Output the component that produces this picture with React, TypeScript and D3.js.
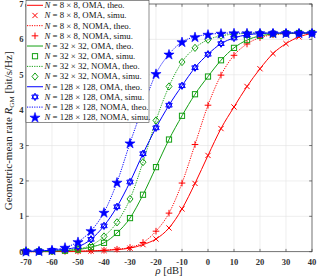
import React from "react";
import * as d3 from "d3";

// SNR grid in dB (markers every 5 dB)
const rho = [-70, -65, -60, -55, -50, -45, -40, -35, -30, -25, -20, -15, -10, -5, 0, 5, 10, 15, 20, 25, 30, 35, 40];

// geometric-mean rate, bit/s/Hz
const oma8 = [0.001, 0.002, 0.004, 0.007, 0.012, 0.02, 0.035, 0.06, 0.1, 0.2, 0.36, 0.67, 1.21, 1.93, 2.72, 3.48, 4.09, 4.67, 5.17, 5.6, 5.88, 6.07, 6.17];
const noma8 = [0.001, 0.002, 0.004, 0.008, 0.014, 0.025, 0.04, 0.07, 0.12, 0.26, 0.58, 1.09, 1.94, 3.03, 4.14, 4.99, 5.55, 5.87, 6.05, 6.13, 6.16, 6.17, 6.18];
const oma32 = [0.004, 0.008, 0.015, 0.03, 0.06, 0.13, 0.25, 0.53, 0.95, 1.61, 2.39, 3.17, 3.84, 4.45, 4.95, 5.41, 5.76, 5.98, 6.1, 6.15, 6.17, 6.18, 6.18];
const noma32 = [0.005, 0.01, 0.02, 0.04, 0.08, 0.18, 0.43, 0.83, 1.49, 2.53, 3.71, 4.67, 5.36, 5.76, 5.99, 6.1, 6.15, 6.17, 6.18, 6.18, 6.18, 6.18, 6.18];
const oma128 = [0.01, 0.02, 0.04, 0.07, 0.14, 0.35, 0.73, 1.27, 1.97, 2.77, 3.5, 4.14, 4.69, 5.2, 5.58, 5.88, 6.04, 6.13, 6.16, 6.18, 6.18, 6.18, 6.18];
const noma128 = [0.01, 0.02, 0.05, 0.12, 0.28, 0.59, 1.11, 1.96, 3.07, 4.1, 5.03, 5.58, 5.93, 6.07, 6.14, 6.17, 6.18, 6.18, 6.18, 6.18, 6.18, 6.18, 6.18];

const xTicks = [-70, -60, -50, -40, -30, -20, -10, 0, 10, 20, 30, 40];
const yTicks = [0, 1, 2, 3, 4, 5, 6, 7];

const RED = "#ff0000";
const GREEN = "#14a014";
const BLUE = "#0000ff";
const FONT = "'Liberation Serif', 'Times New Roman', serif";

type Kind = "x" | "plus" | "square" | "diamond" | "hexagram" | "star" | "none";

const series = [
  { label: " = 8 × 8, OMA, theo.", data: oma8, color: RED, dash: null, marker: "none" as Kind, line: true },
  { label: " = 8 × 8, OMA, simu.", data: oma8, color: RED, dash: null, marker: "x" as Kind, line: false },
  { label: " = 8 × 8, NOMA, theo.", data: noma8, color: RED, dash: "1.2 1.2", marker: "none" as Kind, line: true },
  { label: " = 8 × 8, NOMA, simu.", data: noma8, color: RED, dash: null, marker: "plus" as Kind, line: false },
  { label: " = 32 × 32, OMA, theo.", data: oma32, color: GREEN, dash: null, marker: "none" as Kind, line: true },
  { label: " = 32 × 32, OMA, simu.", data: oma32, color: GREEN, dash: null, marker: "square" as Kind, line: false },
  { label: " = 32 × 32, NOMA, theo.", data: noma32, color: GREEN, dash: "1.2 1.2", marker: "none" as Kind, line: true },
  { label: " = 32 × 32, NOMA, simu.", data: noma32, color: GREEN, dash: null, marker: "diamond" as Kind, line: false },
  { label: " = 128 × 128, OMA, theo.", data: oma128, color: BLUE, dash: null, marker: "none" as Kind, line: true },
  { label: " = 128 × 128, OMA, simu.", data: oma128, color: BLUE, dash: null, marker: "hexagram" as Kind, line: false },
  { label: " = 128 × 128, NOMA, theo.", data: noma128, color: BLUE, dash: "1.2 1.2", marker: "none" as Kind, line: true },
  { label: " = 128 × 128, NOMA, simu.", data: noma128, color: BLUE, dash: null, marker: "star" as Kind, line: false },
];

const x = d3.scaleLinear().domain([-70, 40]).range([26, 312]);
const y = d3.scaleLinear().domain([0, 7]).range([251.7, 4]);

const starPath = d3.symbol(d3.symbolStar, 32)() as string;

function hexPath(r: number) {
  const tri = (off: number) =>
    d3.range(3).map(k => {
      const a = off + (k * 2 * Math.PI) / 3;
      return [r * Math.sin(a), -r * Math.cos(a)];
    });
  const p = (pts: number[][]) => "M" + pts.map(q => q.join(",")).join("L") + "Z";
  return p(tri(0)) + p(tri(Math.PI));
}

function Marker({ kind, cx, cy, color }: { kind: Kind; cx: number; cy: number; color: string }) {
  const s = 2.6;
  const common = { stroke: color, strokeWidth: 1, fill: "none" };
  switch (kind) {
    case "x":
      return <path d={`M${cx - s},${cy - s}L${cx + s},${cy + s}M${cx - s},${cy + s}L${cx + s},${cy - s}`} {...common} />;
    case "plus":
      return <path d={`M${cx - 3.3},${cy}L${cx + 3.3},${cy}M${cx},${cy - 3.3}L${cx},${cy + 3.3}`} {...common} />;
    case "square":
      return <rect x={cx - 2.6} y={cy - 2.6} width={5.2} height={5.2} {...common} />;
    case "diamond":
      return <path d={`M${cx},${cy - 3.6}L${cx + 3},${cy}L${cx},${cy + 3.6}L${cx - 3},${cy}Z`} {...common} />;
    case "hexagram":
      return <path d={hexPath(3.7)} transform={`translate(${cx},${cy})`} {...common} />;
    case "star":
      return <path d={starPath} transform={`translate(${cx},${cy + 0.5})`} fill={color} stroke={color} strokeWidth={0.6} />;
    default:
      return null;
  }
}

export default function App() {
  const line = d3
    .line<number>()
    .x((_, i) => x(rho[i]))
    .y(d => y(d))
    .curve(d3.curveMonotoneX);

  const [x0, x1] = x.range();
  const [y0, y1] = y.range();
  const legendTop = 0.5;
  const step = 10.18;

  return (
    <svg width={319} height={277} style={{ position: "absolute", left: 0, top: 0 }} fontFamily={FONT}>
      <rect width={319} height={277} fill="#fff" />
      {/* grid */}
      <g stroke="#e3e3e3" strokeWidth={0.6}>
        {xTicks.map(t => (
          <line key={"gx" + t} x1={x(t)} x2={x(t)} y1={y1} y2={y0} />
        ))}
        {yTicks.map(t => (
          <line key={"gy" + t} x1={x0} x2={x1} y1={y(t)} y2={y(t)} />
        ))}
      </g>
      {/* axes box + ticks */}
      <g stroke="#444" strokeWidth={0.7} fill="none">
        <rect x={x0} y={y1} width={x1 - x0} height={y0 - y1} />
        {xTicks.map(t => (
          <g key={"tx" + t}>
            <line x1={x(t)} x2={x(t)} y1={y0} y2={y0 - 2.8} />
            <line x1={x(t)} x2={x(t)} y1={y1} y2={y1 + 2.8} />
          </g>
        ))}
        {yTicks.map(t => (
          <g key={"ty" + t}>
            <line x1={x0} x2={x0 + 2.8} y1={y(t)} y2={y(t)} />
            <line x1={x1} x2={x1 - 2.8} y1={y(t)} y2={y(t)} />
          </g>
        ))}
      </g>
      {/* curves */}
      {series.filter(s => s.line).map(s => (
        <path key={s.label} d={line(s.data) as string} fill="none" stroke={s.color} strokeWidth={1} strokeDasharray={s.dash ?? undefined} />
      ))}
      {series.filter(s => !s.line).map(s => (
        <g key={s.label}>
          {s.data.map((v, i) => (
            <Marker key={i} kind={s.marker} cx={x(rho[i])} cy={y(v)} color={s.color} />
          ))}
        </g>
      ))}
      {/* tick labels */}
      <g fontSize={8.6} fontWeight="bold" fill="#333">
        {xTicks.map(t => (
          <text key={"lx" + t} x={x(t)} y={264.5} textAnchor="middle">
            {t}
          </text>
        ))}
        {yTicks.map(t => (
          <text key={"ly" + t} x={x0 - 2.5} y={y(t) + 3} textAnchor="end">
            {t}
          </text>
        ))}
      </g>
      {/* axis labels */}
      <text x={(x0 + x1) / 2} y={274} textAnchor="middle" fontSize={10.5} fill="#222">
        <tspan fontStyle="italic">ρ</tspan> [dB]
      </text>
      <text transform={`translate(12,${(y0 + y1) / 2 + 3}) rotate(-90)`} textAnchor="middle" fontSize={11} fill="#222">
        Geometric-mean rate <tspan fontStyle="italic">R</tspan>
        <tspan fontSize={7} dy={2}>GM</tspan>
        <tspan dy={-2}> [bit/s/Hz]</tspan>
      </text>
      {/* legend */}
      <rect x={x0} y={legendTop} width={123} height={122} fill="#fff" stroke="#444" strokeWidth={0.6} />
      {series.map((s, i) => {
        const cy = 5.3 + i * step;
        return (
          <g key={"lg" + i}>
            {s.line && <line x1={27} x2={43} y1={cy} y2={cy} stroke={s.color} strokeWidth={1} strokeDasharray={s.dash ?? undefined} />}
            <Marker kind={s.marker} cx={35} cy={cy} color={s.color} />
            <text x={44.5} y={cy + 2.9} fontSize={8.8} fill="#111">
              <tspan fontStyle="italic">N</tspan>
              {s.label}
            </text>
          </g>
        );
      })}
    </svg>
  );
}
